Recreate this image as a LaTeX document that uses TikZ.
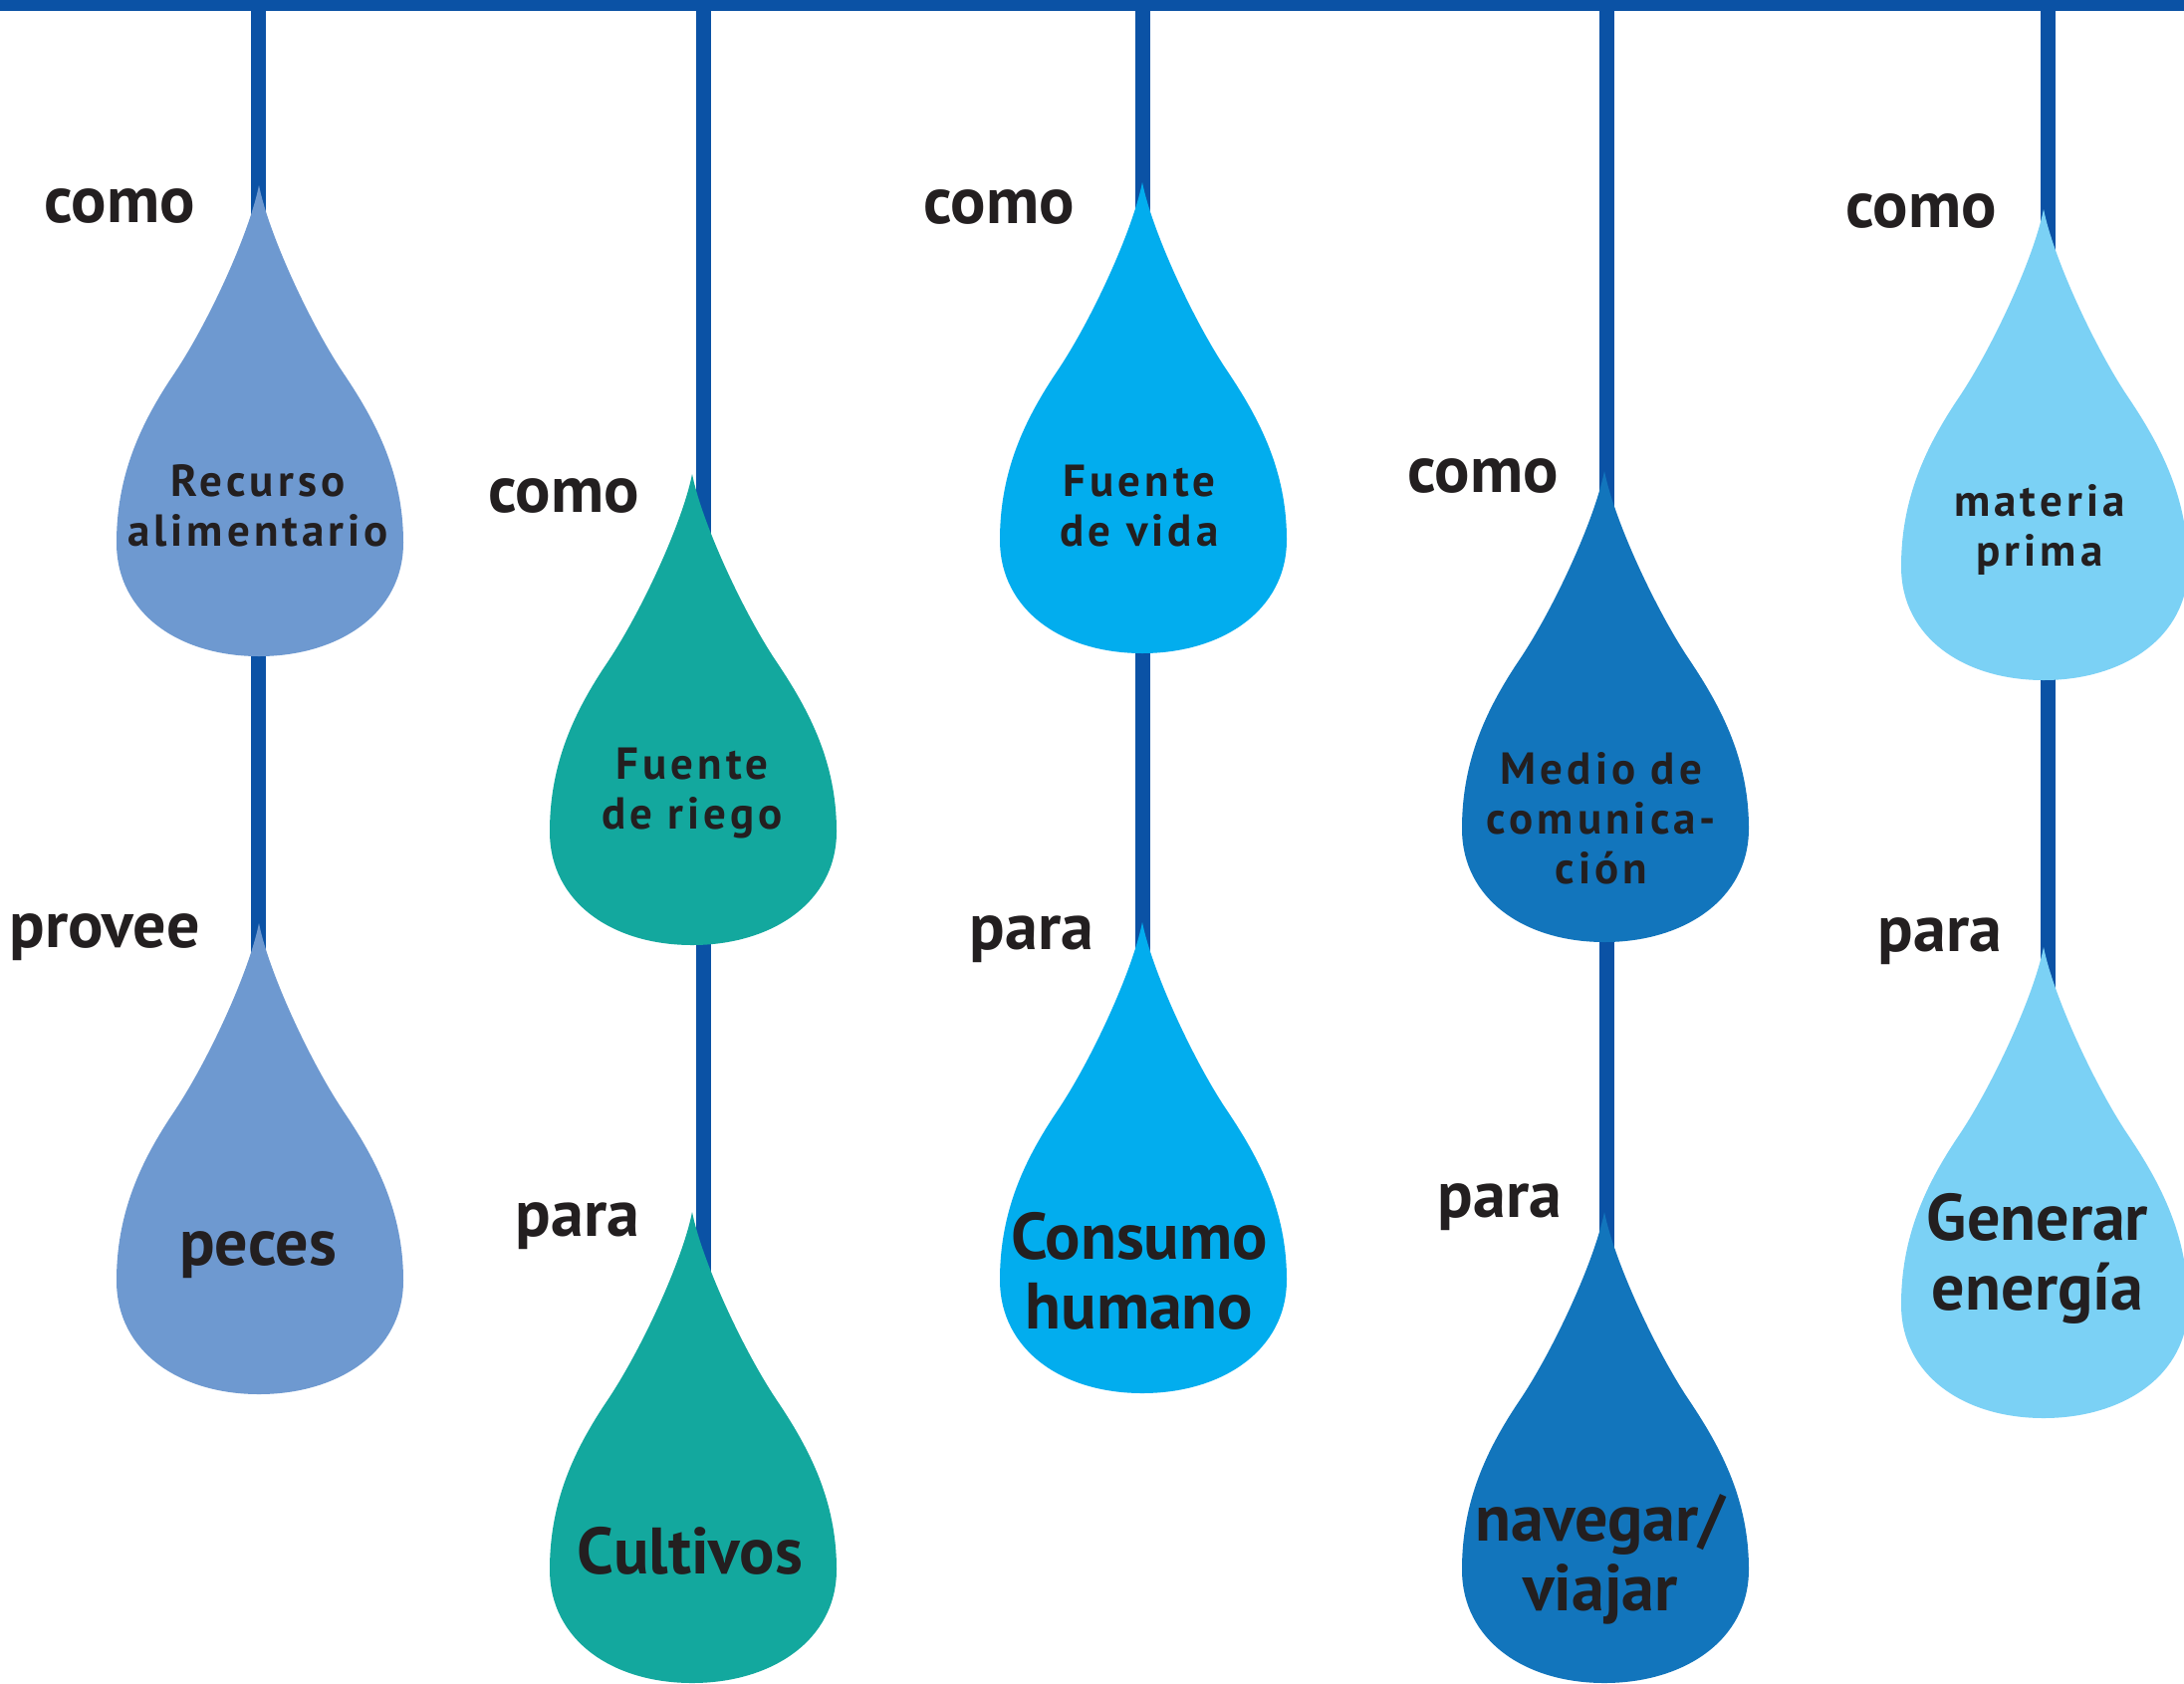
\documentclass[tikz,border=0pt]{standalone}
\usepackage{fontspec}
\setmainfont{PT Sans}
\newfontfamily\spacedfam[LetterSpace=9]{PT Sans}
\definecolor{wireblue}{RGB}{11,82,165}
\definecolor{dropA}{RGB}{110,153,208}
\definecolor{dropB}{RGB}{19,168,158}
\definecolor{dropC}{RGB}{2,173,238}
\definecolor{dropD}{RGB}{18,117,188}
\definecolor{dropE}{RGB}{123,209,245}
\definecolor{txt}{RGB}{35,31,32}
\newcommand\dropbig{\fontsize{66}{70}\selectfont\bfseries}
\newcommand\dropsmall{\spacedfam\fontsize{45}{50}\selectfont\bfseries}
\begin{document}
\begin{tikzpicture}[x=1pt,y=-1pt,
  wire/.style={draw=wireblue,line width=15pt},
  lbl/.style={font=\dropbig,text=txt,inner sep=0pt},
  bigtext/.style={font=\dropbig,text=txt,align=center,inner sep=0pt},
  smalltext/.style={font=\dropsmall,text=txt,align=center,inner sep=0pt},
  drop/.pic={
    \fill[#1] (0,0) .. controls (-10,50) and (-52,140) .. (-85,189)
      .. controls (-118,238) and (-143,290) .. (-143,359)
      .. controls (-143,430) and (-80,473) .. (0,473)
      .. controls (80,473) and (145,430) .. (145,359)
      .. controls (145,290) and (118,238) .. (85,189)
      .. controls (52,140) and (10,50) .. (0,0) -- cycle;
  }]
\useasboundingbox (0,0) rectangle (2193,1690);
% top bar
\fill[wireblue] (0,0) rectangle (2193,11);
% wire coordinates
\coordinate (top1) at (259,0);   \coordinate (end1) at (259,1080);
\coordinate (top2) at (706,0);   \coordinate (end2) at (706,1370);
\coordinate (top3) at (1147,0);  \coordinate (end3) at (1147,1080);
\coordinate (top4) at (1613,0);  \coordinate (end4) at (1613,1370);
\coordinate (top5) at (2056,0);  \coordinate (end5) at (2056,1100);
\draw[wire] (top1) -- (end1);
\draw[wire] (top2) -- (end2);
\draw[wire] (top3) -- (end3);
\draw[wire] (top4) -- (end4);
\draw[wire] (top5) -- (end5);
% drops
\pic at (260,186)  {drop=dropA};
\pic at (260,927)  {drop=dropA};
\pic at (695,476)  {drop=dropB};
\pic at (695,1217) {drop=dropB};
\pic at (1147,183) {drop=dropC};
\pic at (1147,926) {drop=dropC};
\pic at (1611,473) {drop=dropD};
\pic at (1611,1217){drop=dropD};
\pic at (2052,210) {drop=dropE};
\pic at (2052,951) {drop=dropE};
% drop texts
\node[smalltext] (t1) at (259,508) {Recurso\\alimentario};
\node[bigtext]   (t2) at (259,1260) {peces};
\node[smalltext] (t3) at (695,797) {Fuente\\de riego};
\node[bigtext]   (t4) at (693,1557) {Cultivos};
\node[smalltext] (t5) at (1144,508) {Fuente\\de vida};
\node[bigtext]   (t6) at (1144,1276) {Consumo\\humano};
\node[smalltext] (t7) at (1608,822) {Medio de\\comunica-\\ción};
\node[bigtext]   (t8) at (1607,1566) {navegar/\\viajar};
\node[smalltext] (t9) at (2048,532) {materia\\prima};
\node[bigtext]   (t10) at (2046,1264) {Generar\\energía};
% labels
\node[lbl] (l1) at (120,207) {como};
\node[lbl] (l2) at (105,941) {provee};
\node[lbl] (l3) at (566,498) {como};
\node[lbl] (l4) at (580,1231) {para};
\node[lbl] (l5) at (1003,208) {como};
\node[lbl] (l6) at (1036,943) {para};
\node[lbl] (l7) at (1489,478) {como};
\node[lbl] (l8) at (1506,1212) {para};
\node[lbl] (l9) at (1929,212) {como};
\node[lbl] (l10) at (1948,945) {para};
\end{tikzpicture}
\end{document}
